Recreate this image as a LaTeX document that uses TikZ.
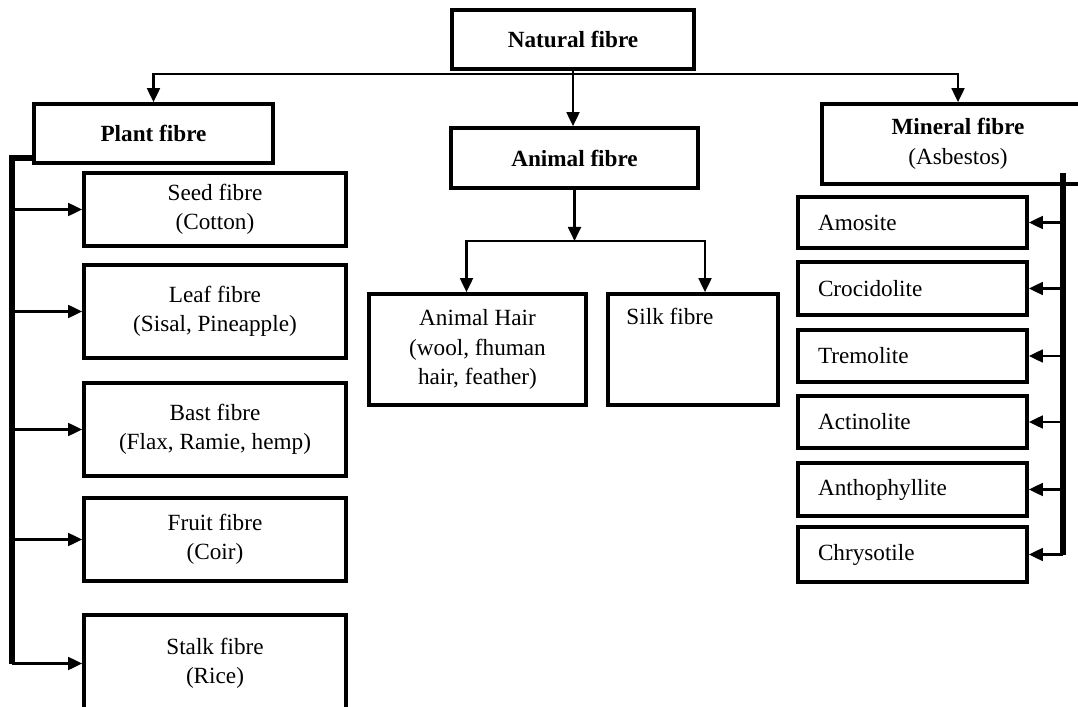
\documentclass[tikz,border=0pt]{standalone}
\usepackage{fontspec}
\setmainfont{Liberation Serif}
\usetikzlibrary{arrows.meta}

\begin{document}
\begin{tikzpicture}[x=0.25mm,y=-0.25mm,
		font=\fontsize{16.5}{21}\selectfont,
		box/.style={draw,line width=2.6pt,align=center,inner sep=0pt},
		sbox/.style={box,align=left,text width=47.25mm,inner xsep=5mm},
		link/.style={line width=1.7pt,-{Triangle[length=3.5mm,width=3.2mm]}},
		bus/.style={line width=3.6pt}]
				\useasboundingbox (0,0) rectangle (1078,707);
				
				\node[box,minimum width=60.5mm,minimum height=14.75mm] (nat) at (573,39.5) {\bfseries Natural fibre};
				\node[box,minimum width=59.75mm,minimum height=14.75mm] (pla) at (153.5,133.5) {\bfseries Plant fibre};
				\node[box,minimum width=61.75mm,minimum height=15mm] (ani) at (574.5,158) {\bfseries Animal fibre};
				\node[box,minimum width=68mm,minimum height=20mm] (min) at (958,144) {\textbf{Mineral fibre}\\(Asbestos)};
				
				\node[box,minimum width=65.5mm,minimum height=18.25mm] (see) at (215,209.5) {Seed fibre\\(Cotton)};
				\node[box,minimum width=65.5mm,minimum height=23.25mm] (lea) at (215,311.5) {Leaf fibre\\(Sisal, Pineapple)};
				\node[box,minimum width=65.5mm,minimum height=23.25mm] (bas) at (215,429.5) {Bast fibre\\(Flax, Ramie, hemp)};
				\node[box,minimum width=65.5mm,minimum height=20.75mm] (fru) at (215,539.5) {Fruit fibre\\(Coir)};
				\node[box,minimum width=65.5mm,minimum height=24.25mm] (sta) at (215,663.5) {Stalk fibre\\(Rice)};
				
				\node[box,minimum width=54.25mm,minimum height=27.75mm] (hai) at (477.5,349.5) {Animal Hair\\(wool, fhuman\\hair, feather)};
				\node[box,minimum width=42.5mm,minimum height=27.75mm] (sil) at (693,349.5) {};
				\node[anchor=north west,inner sep=0pt] (siltxt) at ([xshift=5mm,yshift=-4mm]sil.north west) {Silk fibre};
				
				\node[sbox,minimum height=12.75mm] (amo) at (912.5,222.5) {Amosite};
				\node[sbox,minimum height=13.25mm] (cro) at (912.5,288.5) {Crocidolite};
				\node[sbox,minimum height=13mm] (tre) at (912.5,356) {Tremolite};
				\node[sbox,minimum height=13mm] (act) at (912.5,422) {Actinolite};
				\node[sbox,minimum height=13.25mm] (ant) at (912.5,489.5) {Anthophyllite};
				\node[sbox,minimum height=13.75mm] (chr) at (912.5,554.5) {Chrysotile};
				
				\coordinate (s1) at (573,74);
				\draw[link] (s1) -| (pla.north);
				\draw[link] (s1) -| (min.north);
				\draw[link] (nat.south) -- (nat.south |- ani.north);
				
				\coordinate (s2) at (574.5,241);
				\draw[link] (ani.south) -- (s2);
				\draw[link] (s2) -| ([xshift=-2.75mm]hai.north);
				\draw[link] (s2) -| ([xshift=3mm]sil.north);
				
				\coordinate (lb) at (12,158);
				\draw[bus] (pla.west |- lb) -- (lb) -- (lb |- sta.west);
				\foreach \n in {see,lea,bas,fru,sta}{
					\draw[link] (lb |- \n.west) -- (\n.west);
				}
				
				\coordinate (rb) at (1063,173);
				\draw[bus] (rb) -- (rb |- chr.east);
				\foreach \n in {amo,cro,tre,act,ant,chr}{
					\draw[link] (rb |- \n.east) -- (\n.east);
				}
			\end{tikzpicture}
\end{document}
